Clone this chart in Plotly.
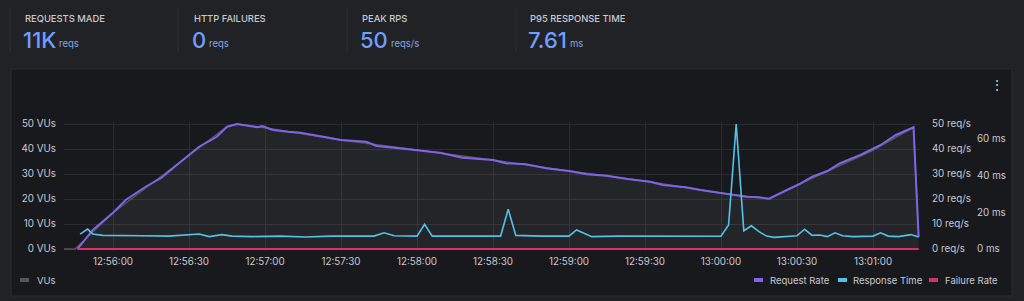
import plotly.graph_objects as go

DAY = "2024-01-01 "

# ---- data ----
rate_times = ["12:55:46", "12:55:52", "12:56:00", "12:56:05", "12:56:13", "12:56:19", "12:56:26",
              "12:56:34", "12:56:41", "12:56:45", "12:56:49", "12:56:52", "12:56:57", "12:56:59",
              "12:57:03", "12:57:09", "12:57:14", "12:57:23", "12:57:30", "12:57:40", "12:57:44",
              "12:57:53", "12:58:00", "12:58:09", "12:58:18", "12:58:30", "12:58:35", "12:58:43",
              "12:58:51", "12:59:00", "12:59:07", "12:59:15", "12:59:23", "12:59:32", "12:59:37",
              "12:59:46", "12:59:52", "13:00:00", "13:00:05", "13:00:10", "13:00:15", "13:00:19",
              "13:00:26", "13:00:31", "13:00:36", "13:00:42", "13:00:47", "13:00:55", "13:01:03",
              "13:01:09", "13:01:16", "13:01:18"]
rate_values = [0, 7.6, 14.5, 19.6, 25.0, 28.4, 34.3,
               40.9, 44.9, 48.9, 50.0, 49.5, 48.7, 49.2,
               47.6, 46.9, 46.5, 44.9, 43.6, 42.9, 41.2,
               40.3, 39.6, 38.5, 36.5, 35.6, 34.3, 33.9,
               32.3, 31.2, 29.9, 29.3, 28.0, 26.9, 25.6,
               24.7, 23.6, 22.3, 21.5, 20.9, 20.7, 20.1,
               23.6, 26.0, 28.9, 31.2, 34.3, 37.6, 41.6,
               45.6, 48.7, 4.9]

vus_times = ["12:55:40", "12:55:45", "12:56:00", "12:56:15", "12:56:30", "12:56:45", "12:56:49",
             "12:57:00", "12:57:30", "12:58:00", "12:58:30", "12:59:00", "12:59:30", "13:00:00",
             "13:00:19", "13:00:30", "13:01:00", "13:01:16", "13:01:18"]
vus_values = [0, 0, 14.5, 26.0, 37.5, 48.9, 50.0,
              48.5, 43.6, 39.6, 35.6, 31.2, 27.2, 22.3,
              20.1, 25.5, 39.5, 48.7, 4.9]

resp_times = ["12:55:47", "12:55:50", "12:55:52", "12:55:56", "12:56:11", "12:56:22", "12:56:34",
              "12:56:38", "12:56:43", "12:56:47", "12:56:55", "12:57:06", "12:57:16", "12:57:26",
              "12:57:38", "12:57:43", "12:57:47", "12:57:51", "12:58:00", "12:58:03", "12:58:06",
              "12:58:17", "12:58:26", "12:58:33", "12:58:36", "12:58:39", "12:58:49", "12:59:00",
              "12:59:03", "12:59:09", "12:59:20", "12:59:36", "12:59:52", "13:00:00", "13:00:03",
              "13:00:06", "13:00:09", "13:00:12", "13:00:15", "13:00:18", "13:00:21", "13:00:26",
              "13:00:30", "13:00:33", "13:00:36", "13:00:39", "13:00:42", "13:00:45", "13:00:48",
              "13:00:52", "13:01:00", "13:01:03", "13:01:06", "13:01:10", "13:01:15", "13:01:18"]
resp_values = [8.1, 10.8, 8.1, 7.4, 7.2, 7.0, 8.1,
               6.7, 7.8, 7.0, 6.7, 7.0, 6.5, 7.0,
               7.0, 7.0, 8.8, 7.2, 7.0, 13.4, 7.0,
               7.0, 7.4, 7.0, 21.5, 7.4, 7.0, 7.0,
               10.3, 6.7, 7.0, 7.0, 7.0, 6.9, 13.0,
               67.7, 9.9, 12.6, 9.4, 7.0, 6.3, 7.0,
               7.2, 10.7, 7.4, 7.6, 6.7, 8.8, 7.2,
               6.7, 7.0, 8.8, 7.0, 6.7, 7.8, 6.5]

fail_times = ["12:55:46", "13:01:18"]
fail_values = [0, 0]

x_ticks = ["12:56:00", "12:56:30", "12:57:00", "12:57:30", "12:58:00", "12:58:30",
           "12:59:00", "12:59:30", "13:00:00", "13:00:30", "13:01:00"]
vu_ticks = [0, 10, 20, 30, 40, 50]
rps_ticks = [0, 10, 20, 30, 40, 50]
ms_ticks = [0, 20, 40, 60]

stat_labels = ["REQUESTS MADE", "HTTP FAILURES", "PEAK RPS", "P95 RESPONSE TIME"]
stat_values = ["11K", "0", "50", "7.61"]
stat_units = ["reqs", "reqs", "reqs/s", "ms"]

legend_left = ["VUs"]
legend_right = ["Request Rate", "Response Time", "Failure Rate"]

# ---- styling ----
W, H = 1024, 301
PAGE_BG = "#212226"
PANEL_BG = "#18191d"
PANEL_BORDER = "#2b2c31"
GRID = "#2a2b30"
TEXT = "#c8c9d2"
BLUE = "#6e9fff"
PURPLE = "#7f64e6"
CYAN = "#52c3e8"
RED = "#d9306a"
GREY = "#55565c"
FONT = "Inter"


def t(s):
    return DAY + s


def px_x(p):
    return p / W


def px_y(p):
    return 1 - p / H


fig = go.Figure()

fig.add_trace(go.Scatter(x=[t(s) for s in vus_times], y=vus_values, name="VUs",
                         mode="lines", line=dict(color=GREY, width=1.5),
                         fill="tozeroy", fillcolor="rgba(200,200,215,0.07)",
                         yaxis="y", showlegend=False, hoverinfo="skip"))
fig.add_trace(go.Scatter(x=[t(s) for s in rate_times], y=rate_values, name="Request Rate",
                         mode="lines", line=dict(color=PURPLE, width=2),
                         yaxis="y2", showlegend=False))
fig.add_trace(go.Scatter(x=[t(s) for s in resp_times], y=resp_values, name="Response Time",
                         mode="lines", line=dict(color=CYAN, width=1.6),
                         yaxis="y3", showlegend=False))
fig.add_trace(go.Scatter(x=[t(s) for s in fail_times], y=fail_values, name="Failure Rate",
                         mode="lines", line=dict(color=RED, width=2),
                         yaxis="y2", showlegend=False, cliponaxis=False))

# plot area in pixels
PL, PR, PT, PB = 64, 920, 122, 251
vu_px = 2.5        # px per VU / req/s
ms_px = 1.845      # px per ms
vu_lo = -(PB - 249) / vu_px
vu_hi = (249 - PT) / vu_px
ms_lo = -(PB - 249) / ms_px
ms_hi = (249 - PT) / ms_px

tickfont = dict(family=FONT, size=9.8, color=TEXT)

fig.update_layout(
    width=W, height=H,
    margin=dict(l=0, r=0, t=0, b=0, pad=0, autoexpand=False),
    paper_bgcolor=PAGE_BG, plot_bgcolor="rgba(0,0,0,0)",
    font=dict(family=FONT, color=TEXT),
    xaxis=dict(domain=[px_x(PL), px_x(PR)], type="date",
               range=[t("12:55:40.66"), t("13:01:18.55")],
               tickvals=[t(s) for s in x_ticks], ticktext=x_ticks,
               showgrid=True, gridcolor=GRID, gridwidth=1, zeroline=False,
               showline=False, ticks="", tickfont=tickfont, ticklabelstandoff=3,
               automargin=False),
    yaxis=dict(domain=[px_y(PB), px_y(PT)], range=[vu_lo, vu_hi],
               tickvals=vu_ticks, ticktext=[f"{v} VUs" for v in vu_ticks],
               showgrid=True, gridcolor=GRID, zeroline=False, showline=False,
               ticks="", tickfont=tickfont, ticklabelstandoff=7, automargin=False),
    yaxis2=dict(overlaying="y", side="right", anchor="x", range=[vu_lo, vu_hi],
                tickvals=rps_ticks, ticktext=[f"{v} req/s" for v in rps_ticks],
                showgrid=False, zeroline=False, showline=False, ticks="",
                tickfont=tickfont, ticklabelstandoff=11, automargin=False),
    yaxis3=dict(overlaying="y", side="right", anchor="free", position=px_x(976),
                range=[ms_lo, ms_hi],
                tickvals=ms_ticks, ticktext=[f"{v} ms" for v in ms_ticks],
                showgrid=False, zeroline=False, showline=False, ticks="",
                tickfont=tickfont, ticklabelstandoff=0, automargin=False),
    showlegend=False,
)

shapes = []
annotations = []

# panel
shapes.append(dict(type="rect", xref="paper", yref="paper", layer="below",
                   x0=px_x(11), x1=px_x(1012), y0=px_y(296), y1=px_y(69),
                   fillcolor=PANEL_BG, line=dict(color=PANEL_BORDER, width=1)))

# stat row separators
for sx in [10, 178, 347, 516]:
    shapes.append(dict(type="line", xref="paper", yref="paper", layer="below",
                       x0=px_x(sx), x1=px_x(sx), y0=px_y(8), y1=px_y(52),
                       line=dict(color="#2e2f35", width=1)))

stat_x = [23, 192, 360, 528]
unit_x = [57, 207, 389, 568]
for i in range(4):
    annotations.append(dict(xref="paper", yref="paper", x=px_x(stat_x[i]), y=px_y(19),
                            xanchor="left", yanchor="middle", showarrow=False,
                            text=stat_labels[i],
                            font=dict(family=FONT, size=9.4, color=TEXT, weight=500)))
    annotations.append(dict(xref="paper", yref="paper", x=px_x(stat_x[i] - 2), y=px_y(39.5),
                            xanchor="left", yanchor="middle", showarrow=False,
                            text=stat_values[i],
                            font=dict(family=FONT, size=22, color=BLUE, weight=500)))
    annotations.append(dict(xref="paper", yref="paper", x=px_x(unit_x[i]), y=px_y(43.5),
                            xanchor="left", yanchor="middle", showarrow=False,
                            text=stat_units[i],
                            font=dict(family=FONT, size=9.5, color="#8aa6e0")))

# panel menu
annotations.append(dict(xref="paper", yref="paper", x=px_x(997), y=px_y(84),
                        xanchor="center", yanchor="middle", showarrow=False,
                        text="⋮", font=dict(family=FONT, size=14, color=TEXT)))

# legend (drawn manually)
def legend_item(mx0, tx, label, color):
    shapes.append(dict(type="line", xref="paper", yref="paper",
                       x0=px_x(mx0), x1=px_x(mx0 + 9), y0=px_y(280), y1=px_y(280),
                       line=dict(color=color, width=4)))
    annotations.append(dict(xref="paper", yref="paper", x=px_x(tx), y=px_y(280),
                            xanchor="left", yanchor="middle", showarrow=False,
                            text=label, font=dict(family=FONT, size=9.5, color=TEXT)))

legend_item(20, 35, legend_left[0], GREY)
legend_item(754, 768, legend_right[0], PURPLE)
legend_item(838, 851, legend_right[1], CYAN)
legend_item(929, 943, legend_right[2], RED)

fig.update_layout(shapes=shapes, annotations=annotations)

fig.write_html("out.html")
